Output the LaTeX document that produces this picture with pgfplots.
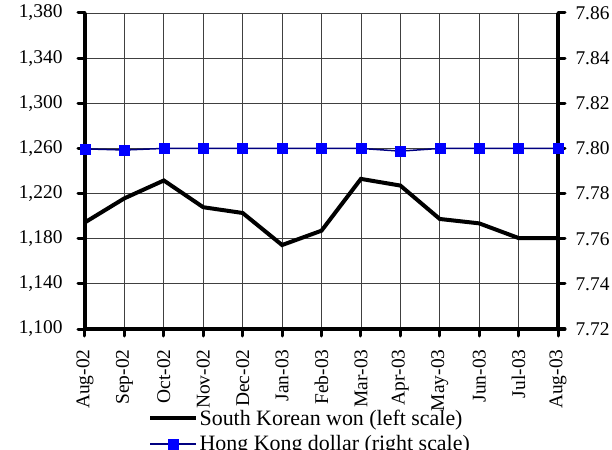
\documentclass[border=0pt]{standalone}
\usepackage{fontspec}
\setmainfont{Liberation Serif}
\usepackage{pgfplots}
\pgfplotsset{compat=1.18}
\definecolor{navyline}{RGB}{0,0,128}
\definecolor{hkblue}{RGB}{0,0,255}
\begin{document}
\begin{tikzpicture}
\pgfplotsset{
  base/.style={
    scale only axis, width=473bp, height=316bp,
    xmin=0, xmax=12,
    clip=false,
    tick align=outside,
    major tick length=7bp,
    tick style={line width=3bp, black, line cap=round},
    /pgf/number format/assume math mode=true,
    tick label style={font=\fontsize{19.5}{23}\selectfont},
    xticklabel shift={10bp},
  }
}
\begin{axis}[base,
  ymin=1100, ymax=1380,
  ytick={1100,1140,...,1380},
  yticklabel shift={12bp},
  axis x line*=bottom, axis y line*=left,
  axis line style={line width=4bp, -},
  xtick={0,...,12},
  xticklabels={Aug-02,Sep-02,Oct-02,Nov-02,Dec-02,Jan-03,Feb-03,Mar-03,Apr-03,May-03,Jun-03,Jul-03,Aug-03},
  xticklabel style={rotate=90, anchor=east},
  yticklabel style={/pgf/number format/.cd, 1000 sep={,}},
  grid=major,
  grid style={black!75, line width=0.8bp},
  legend style={draw=none, fill=none, at={(0.133,-0.25)}, anchor=north west,
    font=\fontsize{22}{26}\selectfont, inner sep=0pt, row sep=6bp,
    nodes={inner sep=1.5bp}},
  legend cell align=left,
  legend image code/.code={\draw[#1, mark repeat=2, mark phase=2] plot coordinates {(0bp,0bp)(23bp,0bp)(46bp,0bp)};},
]
\addplot[black, line width=4bp] coordinates {
(0,1194.5) (1,1215.8) (2,1231.6) (3,1207.9) (4,1202.8) (5,1174.4) (6,1187.1)
(7,1233.0) (8,1227.1) (9,1197.5) (10,1193.6) (11,1180.6) (12,1180.6)};
\addlegendentry{South Korean won (left scale)}
\addlegendimage{navyline, line width=1.5bp, mark=square*, mark size=5bp, mark options={hkblue, fill=hkblue, line width=0.5bp}}
\addlegendentry{Hong Kong dollar (right scale)}
\end{axis}
\begin{axis}[base,
  ymin=7.72, ymax=7.86,
  ytick={7.72,7.74,...,7.86},
  yticklabel shift={7bp},
  axis x line=none, axis y line*=right,
  axis line style={line width=4bp, -},
  yticklabel style={/pgf/number format/.cd, fixed, fixed zerofill, precision=2},
]
\addplot[navyline, line width=1.5bp, mark=square*, mark size=5bp, mark options={hkblue, fill=hkblue, line width=0.5bp}] coordinates {
(0,7.7998) (1,7.7993) (2,7.8000) (3,7.8000) (4,7.8000) (5,7.8000) (6,7.8000)
(7,7.8000) (8,7.7988) (9,7.8000) (10,7.8000) (11,7.8000) (12,7.8000)};
\end{axis}
\pgfresetboundingbox
\path[use as bounding box] (-85bp,-121bp) rectangle (527bp,329bp);
\end{tikzpicture}
\end{document}
